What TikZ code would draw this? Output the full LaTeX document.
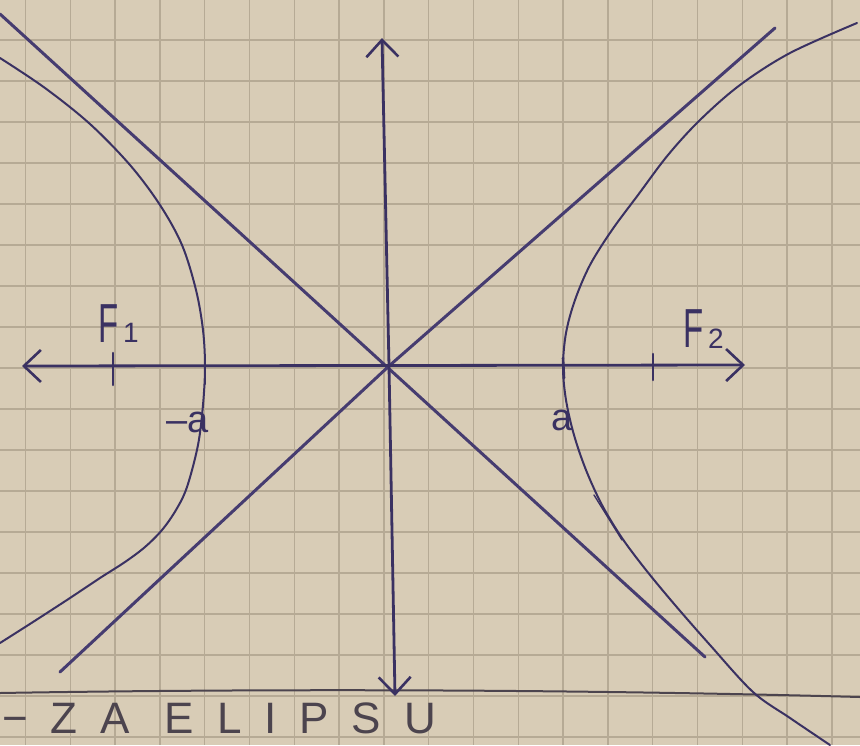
\documentclass[tikz,border=0pt]{standalone}
\usepackage{fontspec}
\setmainfont{Liberation Sans}
\usetikzlibrary{arrows.meta}
\definecolor{paper}{HTML}{D8CCB6}
\definecolor{gridc}{HTML}{B6AA95}
\definecolor{pen}{HTML}{3A3162}
\definecolor{penlight}{HTML}{463C70}
\definecolor{pencil}{HTML}{4C444E}
\newcommand{\handw}[1]{\scalebox{0.6}[1]{#1}}
\begin{document}
\begin{tikzpicture}[x=1pt,y=-1pt,
  gridline/.style={draw=gridc, line width=1.5pt},
  axisline/.style={draw=pen, line width=2.8pt, line cap=round,
    {Straight Barb[length=17pt,width=32pt,line width=2.6pt]}-{Straight Barb[length=17pt,width=32pt,line width=2.6pt]}},
  asym/.style={draw=penlight, line width=3pt, line cap=round, line join=round},
  branch/.style={draw=pen, line width=2pt, line cap=round},
  tick/.style={draw=pen, line width=2.6pt, line cap=round},
  lab/.style={inner sep=0pt, text=pen, font=\fontsize{55}{55}\selectfont},
  sublab/.style={inner sep=0pt, text=pen, font=\fontsize{28}{28}\selectfont},
  alab/.style={inner sep=0pt, text=pen, font=\fontsize{38}{38}\selectfont},
  bottomtext/.style={inner sep=0pt, text=pencil, font=\fontsize{44}{44}\selectfont\addfontfeature{LetterSpace=52}}
]
\useasboundingbox (0,0) rectangle (860,745);
\fill[paper] (0,0) rectangle (860,745);
\clip (0,0) rectangle (860,745);
% grid
\foreach \i in {0,...,18} \draw[gridline] ({25.5+44.8*\i},0) -- ({25.5+44.8*\i},745);
\foreach \j in {0,...,18} \draw[gridline] (0,{-1+41*\j}) -- (860,{-1+41*\j});
% key points
\coordinate (O) at (389,366);
\coordinate (L) at (22,366);
\coordinate (R) at (745,365);
\coordinate (T) at (382,38);
\coordinate (B) at (395,696);
\coordinate (A1) at (0,14);
\coordinate (A2) at (705,657);
\coordinate (A3) at (60,672);
\coordinate (A4) at (775,28);
\coordinate (V1) at (205,367);
\coordinate (V2) at (563,367);
% bottom pencil line
\draw[draw=pencil, line width=2pt] (0,693) .. controls (300,688) and (600,690) .. (860,697);
% asymptotes
\draw[asym] (A1) -- (A2);
\draw[asym] (A3) -- (O) -- (A4);
% axes
\draw[axisline] (L) -- (R);
\draw[axisline] (T) -- (O) -- (B);
% hyperbola branches
\draw[branch] plot[smooth, tension=0.55] coordinates {(857,23) (790,53) (740,85) (700,120) (668,155) (638,195) (612,230) (590,265) (575,300) (566,333) (V2) (566,400) (574,435) (586,470) (602,505) (622,538) (646,570) (675,605) (710,645) (753,692) (790,718) (830,745)};
\draw[branch] plot[smooth, tension=0.55] coordinates {(0,58) (45,88) (90,124) (130,165) (160,205) (182,245) (196,290) (203,330) (V1) (203,405) (198,445) (187,487) (176,510) (162,530) (145,547) (125,562) (100,578) (70,598) (33,622) (0,643)};
\draw[branch, line width=1.4pt] (594,495) -- (622,540);
% ticks
\coordinate (F1t) at (113,353);
\coordinate (F1b) at (113,385);
\coordinate (F2t) at (653,354);
\coordinate (F2b) at (653,380);
\draw[tick] (F1t) -- (F1b);
\draw[tick] (F2t) -- (F2b);
\draw[tick] (205,360) -- (205,384);
\draw[tick] (563,358) -- (564,378);
% labels
\node[lab, anchor=base west] (f1) at (98,342) {\handw{F}};
\node[sublab, anchor=base west] (f1s) at (123,342) {1};
\node[lab, anchor=base west] (f2) at (683,347) {\handw{F}};
\node[sublab, anchor=base west] (f2s) at (708,348) {2};
\node[alab, anchor=base west] (ma) at (166,432) {–a};
\node[alab, anchor=base west] (pa) at (551,430) {a};
% bottom text
\node[bottomtext, anchor=base west] (title) at (2,733) {−ZA ELIPSU};
\end{tikzpicture}
\end{document}
